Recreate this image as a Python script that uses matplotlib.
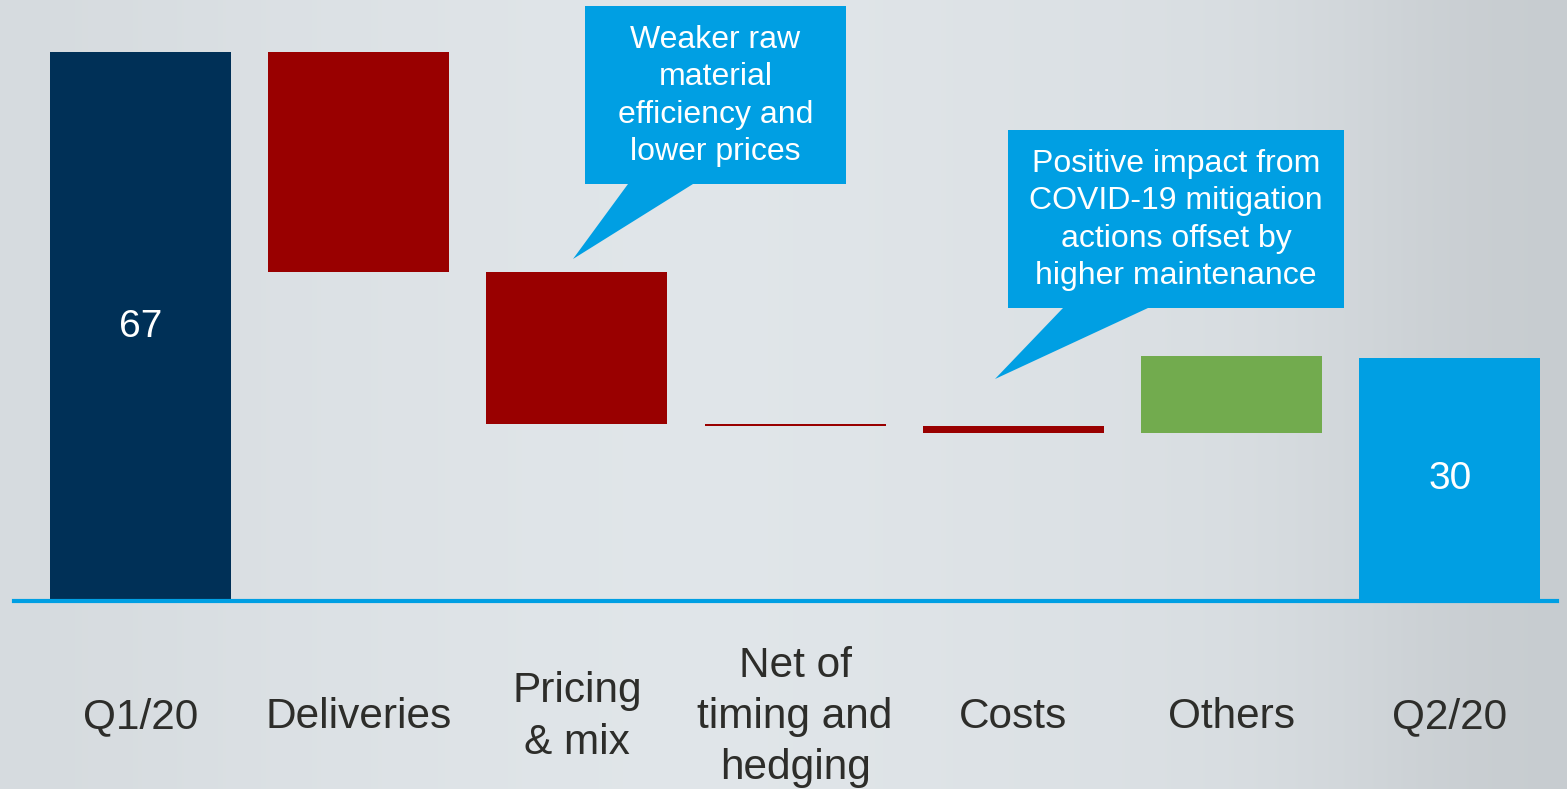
import numpy as np
import matplotlib.pyplot as plt
from matplotlib.patches import Polygon

plt.rcParams['font.family'] = ['Liberation Sans', 'DejaVu Sans']

# Datos del puente Q1/20 -> Q2/20
categorias = ['Q1/20', 'Deliveries', 'Pricing\n& mix', 'Net of\ntiming and\nhedging',
              'Costs', 'Others', 'Q2/20']
inicio = 67
cambios = [-26.8, -18.6, -0.25, -0.9, 9.4]
final = 29.7
colores = ['#003057', '#990000', '#990000', '#990000', '#990000', '#72ab4e', '#009fe3']

W, H = 1567, 789
fig = plt.figure(figsize=(W / 100, H / 100), dpi=100)
ax = fig.add_axes([0, 0, 1, 1])

# mapeo pixel -> datos
x0, dx = 140.5, 218.2
y0, dy = 601, 8.194
xlim = (-x0 / dx, (W - x0) / dx)
ylim = (-(H - y0) / dy, y0 / dy)
ax.set_xlim(xlim)
ax.set_ylim(ylim)


def px(x, y):
    return ((x - x0) / dx, (y0 - y) / dy)


# fondo gris metalico
grad = np.array([[0.86, 0.88, 0.89, 0.90, 0.90, 0.89, 0.88, 0.86, 0.80]])
cols = np.stack([grad - 0.02, grad, grad + 0.015], axis=-1).clip(0, 1)
ax.imshow(cols, extent=[xlim[0], xlim[1], ylim[0], ylim[1]], aspect='auto',
          interpolation='bicubic', zorder=0)

# barras de la cascada
alturas = [inicio] + cambios + [final]
bases = [0]
nivel = inicio
for c in cambios:
    bases.append(nivel + min(c, 0))
    nivel += c
bases.append(0)
ax.bar(range(len(categorias)), [abs(a) for a in alturas], bottom=bases, width=0.83,
       color=colores, zorder=2)

ax.axhline(0, xmin=14 / W, xmax=1557 / W, color='#009fe3', lw=3, zorder=3)

ax.text(0, inicio / 2, f'{inicio:.0f}', color='white', fontsize=28, ha='center', va='center', zorder=4)
ax.text(6, final / 2, f'{final:.0f}', color='white', fontsize=28, ha='center', va='center', zorder=4)

for i, cat in enumerate(categorias):
    ax.text(i, px(0, 717)[1], cat, fontsize=30.5, color='#2d2d2a', ha='center', va='center',
            linespacing=1.37)


# globos de texto
def globo(caja, cola, texto):
    (l, t, r, b) = caja
    bx1, bx2, tip = cola
    pts = [px(l, t), px(r, t), px(r, b), px(bx2, b), px(*tip), px(bx1, b), px(l, b)]
    ax.add_patch(Polygon(pts, closed=True, facecolor='#009fe3', edgecolor='none', zorder=5))
    cx, cy = px((l + r) / 2, (t + b) / 2 + 1)
    ax.text(cx, cy, texto, color='white', fontsize=23, ha='center', va='center',
            linespacing=1.33, zorder=6)


globo((585, 6, 846, 184), (628, 693, (573, 259)),
      'Weaker raw\nmaterial\nefficiency and\nlower prices')
globo((1008, 130, 1344, 308), (1063, 1148, (995, 379)),
      'Positive impact from\nCOVID-19 mitigation\nactions offset by\nhigher maintenance')

ax.axis('off')
plt.savefig('out.png', dpi=100)
